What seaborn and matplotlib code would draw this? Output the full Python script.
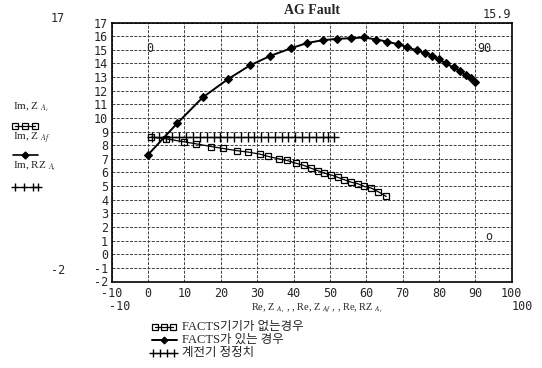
import matplotlib
matplotlib.use("Agg")
import matplotlib.pyplot as plt
from matplotlib.lines import Line2D
import seaborn as sns

# AG fault apparent impedance trajectories
# without FACTS device
x_no = [0.8, 4.9, 9.8, 13.2, 17.4, 20.6, 24.4, 27.6, 30.8, 33.1, 35.9, 38.2, 40.6,
        42.9, 44.7, 46.6, 48.4, 50.3, 52.1, 54.0, 55.8, 57.7, 59.5, 61.4, 63.2, 65.5]
y_no = [8.59, 8.47, 8.25, 8.10, 7.90, 7.76, 7.60, 7.49, 7.34, 7.17, 7.00, 6.88, 6.68,
        6.51, 6.32, 6.14, 5.95, 5.82, 5.65, 5.46, 5.29, 5.17, 4.97, 4.85, 4.60, 4.24]

# with FACTS device
x_facts = [0.0, 8.0, 15.0, 22.0, 28.0, 33.6, 39.2, 43.8, 48.0, 52.0, 55.8, 59.5, 62.8,
           65.7, 68.8, 71.1, 73.9, 76.2, 78.1, 79.9, 81.8, 84.1, 85.9, 87.3, 88.7, 90.0]
y_facts = [7.3, 9.6, 11.5, 12.85, 13.85, 14.55, 15.1, 15.5, 15.7, 15.8, 15.85, 15.9, 15.75,
           15.6, 15.4, 15.2, 14.95, 14.75, 14.55, 14.3, 14.0, 13.7, 13.45, 13.15, 12.9, 12.6]

# relay setting
x_relay = [1.0, 2.9, 4.8, 6.7, 8.6, 10.4, 12.3, 14.2, 16.1, 18.0, 19.8, 21.7, 23.6, 25.5,
           27.4, 29.2, 31.1, 33.0, 34.9, 36.8, 38.6, 40.5, 42.4, 44.3, 46.2, 48.0, 49.5, 51.0]
y_relay = [8.6] * len(x_relay)

labels = ["FACTS기기가 없는경우", "FACTS가 있는 경우", "계전기 정정치"]
x_ticks = list(range(-10, 101, 10))
y_ticks = list(range(-2, 18))

sns.set_style("white")
plt.rcParams["font.family"] = ["Liberation Serif", "Noto Sans CJK KR"]
plt.rcParams["mathtext.fontset"] = "stix"
MONO = "DejaVu Sans Mono"

W, H = 542, 368
fig = plt.figure(figsize=(W / 100, H / 100), dpi=100)
ax = fig.add_axes([111.7 / W, 1 - 281.5 / H, 400 / W, 259 / H])

sq_kw = dict(color="black", lw=0.9, marker="s", markersize=5, markerfacecolor="none",
             markeredgecolor="black", markeredgewidth=0.9)
dm_kw = dict(color="black", lw=1.4, marker="D", markersize=4, markerfacecolor="black",
             markeredgecolor="black", markeredgewidth=0.8)
pl_kw = dict(color="black", lw=0.8, marker="+", markersize=7, markeredgecolor="black",
             markeredgewidth=1.0)

sns.lineplot(x=x_no, y=y_no, ax=ax, sort=False, estimator=None, **sq_kw)
sns.lineplot(x=x_facts, y=y_facts, ax=ax, sort=False, estimator=None, **dm_kw)
sns.lineplot(x=x_relay, y=y_relay, ax=ax, sort=False, estimator=None, **pl_kw)
if ax.get_legend() is not None:
    ax.get_legend().remove()

ax.set_xlim(-10, 100)
ax.set_ylim(-2, 17)
ax.set_xticks(x_ticks)
ax.set_yticks(y_ticks)
ax.set_xticklabels([str(v) for v in x_ticks], family=MONO, fontsize=8.5)
ax.set_yticklabels([str(v) for v in y_ticks], family=MONO, fontsize=8.5)
ax.tick_params(axis="y", length=0, pad=2.5)
ax.tick_params(axis="x", length=0, pad=4)
ax.grid(True, color="0.25", ls=(0, (3, 1.5)), lw=0.7)
for s in ax.spines.values():
    s.set_color("black")
    s.set_linewidth(1.2)
ax.set_xlabel("")
ax.set_ylabel("")
ax.set_title("AG Fault", fontsize=10, fontweight="bold", pad=6)


def ftext(px, py, s, **kw):
    fig.text(px / W, 1 - py / H, s, **kw)


def fline(xs, py, **kw):
    fig.add_artist(Line2D([v / W for v in xs], [1 - py / H] * len(xs),
                          transform=fig.transFigure, **kw))


# mathcad style range markers
ftext(58, 19, "17", ha="center", va="center", family=MONO, fontsize=8.5)
ftext(58, 270, "-2", ha="center", va="center", family=MONO, fontsize=8.5)
ftext(497, 15, "15.9", ha="center", va="center", family=MONO, fontsize=8.5)
ftext(120, 307, "-10", ha="center", va="center", family=MONO, fontsize=8.5)
ftext(522, 307, "100", ha="center", va="center", family=MONO, fontsize=8.5)
ftext(150, 49, "0", ha="center", va="center", family=MONO, fontsize=8.5)
ftext(484, 49, "90", ha="center", va="center", family=MONO, fontsize=8.5)
ftext(489, 236, "o", ha="center", va="center", family=MONO, fontsize=8.5)
ftext(317, 308, r"Re, Z $_{A_i}$ , , Re, Z $_{Af}$ , , Re, RZ $_{A_i}$",
      ha="center", va="center", fontsize=7.5)

# y-axis trace labels at left
ftext(13, 107, r"Im, Z $_{A_i}$", ha="left", va="center", fontsize=8)
ftext(13, 138, r"Im, Z $_{Af}$", ha="left", va="center", fontsize=8)
ftext(13, 166, r"Im, RZ $_{A_i}$", ha="left", va="center", fontsize=8)
fline([15, 25, 35], 126, color="black", lw=0.9, marker="s", markersize=4.5,
      markerfacecolor="none", markeredgewidth=0.9)
fline([13, 25, 38], 155, color="black", lw=1.2, marker="D", markersize=3.5, markevery=[1])
fline([15, 24, 33, 38], 187, color="black", lw=0.8, marker="+", markersize=6,
      markeredgewidth=1.0)

# bottom legend
fline([155, 164, 173], 327, **dict(sq_kw, markersize=4.5))
fline([152, 164, 177], 340, **dict(dm_kw, markersize=3.5, markevery=[1]))
fline([153, 160, 167, 174], 353, **dict(pl_kw, markersize=6))
for py, lab in zip([327, 340, 353], labels):
    ftext(182, py, lab, ha="left", va="center", fontsize=9)

fig.savefig("out.png", dpi=100)
